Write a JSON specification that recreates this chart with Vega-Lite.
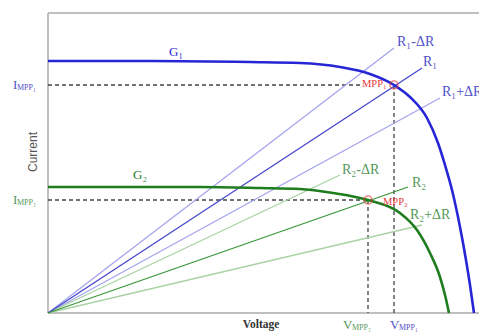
{
  "$schema": "https://vega.github.io/schema/vega-lite/v6.json",
  "width": 431,
  "height": 300,
  "padding": {"left": 48, "top": 13, "right": 0, "bottom": 19},
  "autosize": {"type": "none"},
  "background": "white",
  "config": {"view": {"stroke": null}},
  "datasets": {
    "curves": [
      {"curve": "G1", "x": 0, "y": 25.2}, {"curve": "G1", "x": 10.2, "y": 25.2}, {"curve": "G1", "x": 20.2, "y": 25.1},
      {"curve": "G1", "x": 25.2, "y": 25.0}, {"curve": "G1", "x": 29.2, "y": 24.6}, {"curve": "G1", "x": 32.2, "y": 23.9},
      {"curve": "G1", "x": 34.6, "y": 22.8}, {"curve": "G1", "x": 36.2, "y": 21.6}, {"curve": "G1", "x": 37.9, "y": 19.5},
      {"curve": "G1", "x": 39.0, "y": 17.0}, {"curve": "G1", "x": 39.7, "y": 14.8}, {"curve": "G1", "x": 40.4, "y": 12.3},
      {"curve": "G1", "x": 41.2, "y": 8.6}, {"curve": "G1", "x": 41.8, "y": 5.3}, {"curve": "G1", "x": 42.2, "y": 2.8},
      {"curve": "G1", "x": 42.6, "y": 0},
      {"curve": "G2", "x": 0, "y": 12.6}, {"curve": "G2", "x": 15.2, "y": 12.6}, {"curve": "G2", "x": 21.2, "y": 12.5},
      {"curve": "G2", "x": 25.2, "y": 12.4}, {"curve": "G2", "x": 28.5, "y": 12.0}, {"curve": "G2", "x": 32.0, "y": 11.3},
      {"curve": "G2", "x": 35.2, "y": 10.0}, {"curve": "G2", "x": 36.9, "y": 8.3}, {"curve": "G2", "x": 38.2, "y": 6.0},
      {"curve": "G2", "x": 39.2, "y": 3.6}, {"curve": "G2", "x": 39.7, "y": 1.8}, {"curve": "G2", "x": 40.1, "y": 0}
    ],
    "loads": [
      {"line": "R1-ΔR", "group": "R1±", "x": 0, "y": 0, "x2": 34.6, "y2": 26.5},
      {"line": "R1+ΔR", "group": "R1±", "x": 0, "y": 0, "x2": 39.2, "y2": 21.5},
      {"line": "R2-ΔR", "group": "R2±", "x": 0, "y": 0, "x2": 29.2, "y2": 13.8},
      {"line": "R2+ΔR", "group": "R2±", "x": 0, "y": 0, "x2": 37.4, "y2": 8.8},
      {"line": "R1", "group": "R1", "x": 0, "y": 0, "x2": 37.4, "y2": 24.5},
      {"line": "R2", "group": "R2", "x": 0, "y": 0, "x2": 36.0, "y2": 12.6}
    ],
    "guides": [
      {"x": 0, "y": 22.8, "x2": 31.2, "y2": 22.8},
      {"x": 34.6, "y": 22.8, "x2": 34.6, "y2": 0},
      {"x": 0, "y": 11.3, "x2": 32.0, "y2": 11.3},
      {"x": 32.0, "y": 11.3, "x2": 32.0, "y2": 0}
    ],
    "mpp": [{"x": 34.6, "y": 22.8}, {"x": 32.0, "y": 11.3}],
    "labels": [
      {"role": "r", "text": "R₁-ΔR", "x": 34.9, "y": 27.1, "group": "blueText"},
      {"role": "r", "text": "R₁", "x": 37.5, "y": 25.1, "group": "blueText"},
      {"role": "r", "text": "R₁+ΔR", "x": 39.4, "y": 22.1, "group": "blueText"},
      {"role": "r", "text": "R₂-ΔR", "x": 29.4, "y": 14.3, "group": "greenText"},
      {"role": "r", "text": "R₂", "x": 36.4, "y": 13.0, "group": "greenText"},
      {"role": "r", "text": "R₂+ΔR", "x": 36.2, "y": 9.8, "group": "greenText"},
      {"role": "g", "text": "G₁", "x": 12.8, "y": 26.1, "group": "G1"},
      {"role": "g", "text": "G₂", "x": 9.2, "y": 13.8, "group": "G2"},
      {"role": "big", "text": "I", "x": -3.5, "y": 22.8, "group": "blueText"},
      {"role": "big", "text": "I", "x": -3.5, "y": 11.3, "group": "greenText"},
      {"role": "big", "text": "V", "x": 29.5, "y": -1.2, "group": "greenText"},
      {"role": "big", "text": "V", "x": 34.2, "y": -1.2, "group": "blueText"},
      {"role": "sub", "text": "MPP₁", "x": -3.1, "y": 22.5, "group": "blueText"},
      {"role": "sub", "text": "MPP₂", "x": -3.1, "y": 11.0, "group": "greenText"},
      {"role": "sub", "text": "MPP₂", "x": 30.4, "y": -1.5, "group": "greenText"},
      {"role": "sub", "text": "MPP₁", "x": 35.1, "y": -1.5, "group": "blueText"},
      {"role": "mpp", "text": "MPP₁", "x": 31.4, "y": 22.9, "group": "red"},
      {"role": "mpp", "text": "MPP₂", "x": 33.5, "y": 11.1, "group": "red"}
    ]
  },
  "layer": [
    {
      "data": {"values": [{"y": 30}, {"y": 0}]},
      "mark": {"type": "rule", "color": "#aaaaaa", "strokeWidth": 1.5},
      "encoding": {
        "y": {"field": "y", "type": "quantitative", "scale": {"domain": [0, 30], "nice": false}, "axis": null}
      }
    },
    {
      "data": {"values": [{"x": 0}]},
      "mark": {"type": "rule", "color": "#aaaaaa", "strokeWidth": 1.5},
      "encoding": {
        "x": {"field": "x", "type": "quantitative", "scale": {"domain": [0, 43.1], "nice": false}, "axis": null}
      }
    },
    {
      "data": {"name": "guides"},
      "mark": {"type": "rule", "color": "#444444", "strokeWidth": 1.3, "strokeDash": [4, 3]},
      "encoding": {
        "x": {"field": "x", "type": "quantitative", "scale": {"domain": [0, 43.1], "nice": false}, "axis": null},
        "y": {"field": "y", "type": "quantitative", "scale": {"domain": [0, 30], "nice": false}, "axis": null},
        "x2": {"field": "x2"},
        "y2": {"field": "y2"}
      }
    },
    {
      "data": {"name": "loads"},
      "mark": {"type": "rule", "strokeWidth": 1.3},
      "encoding": {
        "x": {"field": "x", "type": "quantitative", "scale": {"domain": [0, 43.1], "nice": false}, "axis": null},
        "y": {"field": "y", "type": "quantitative", "scale": {"domain": [0, 30], "nice": false}, "axis": null},
        "x2": {"field": "x2"},
        "y2": {"field": "y2"},
        "color": {"field": "group", "type": "nominal", "legend": null,
          "scale": {"domain": ["G1", "G2", "R1", "R1±", "R2", "R2±", "blueText", "greenText", "red"],
                    "range": ["#2626d6", "#1e7d1e", "#4646cc", "#a4a4ee", "#3a963a", "#a9d3a3", "#5050c8", "#55985a", "#e63a3a"]}}
      }
    },
    {
      "data": {"name": "curves"},
      "mark": {"type": "line", "strokeWidth": 2.6, "interpolate": "monotone"},
      "encoding": {
        "x": {"field": "x", "type": "quantitative", "scale": {"domain": [0, 43.1], "nice": false}, "axis": null},
        "y": {"field": "y", "type": "quantitative", "scale": {"domain": [0, 30], "nice": false}, "axis": null},
        "color": {"field": "curve", "type": "nominal", "legend": null}
      }
    },
    {
      "data": {"name": "mpp"},
      "mark": {"type": "point", "shape": "circle", "filled": false, "size": 65, "strokeWidth": 1.3, "color": "#e63a3a"},
      "encoding": {
        "x": {"field": "x", "type": "quantitative", "scale": {"domain": [0, 43.1], "nice": false}, "axis": null},
        "y": {"field": "y", "type": "quantitative", "scale": {"domain": [0, 30], "nice": false}, "axis": null}
      }
    },
    {
      "data": {"name": "labels"},
      "transform": [{"filter": "datum.role == 'r'"}],
      "mark": {"type": "text", "align": "left", "baseline": "middle", "font": "Liberation Serif", "fontSize": 14},
      "encoding": {
        "x": {"field": "x", "type": "quantitative", "scale": {"domain": [0, 43.1], "nice": false}, "axis": null},
        "y": {"field": "y", "type": "quantitative", "scale": {"domain": [0, 30], "nice": false}, "axis": null},
        "text": {"field": "text"},
        "color": {"field": "group", "type": "nominal", "legend": null}
      }
    },
    {
      "data": {"name": "labels"},
      "transform": [{"filter": "datum.role == 'g'"}],
      "mark": {"type": "text", "align": "center", "baseline": "middle", "font": "Liberation Serif", "fontSize": 13},
      "encoding": {
        "x": {"field": "x", "type": "quantitative", "scale": {"domain": [0, 43.1], "nice": false}, "axis": null},
        "y": {"field": "y", "type": "quantitative", "scale": {"domain": [0, 30], "nice": false}, "axis": null},
        "text": {"field": "text"},
        "color": {"field": "group", "type": "nominal", "legend": null}
      }
    },
    {
      "data": {"name": "labels"},
      "transform": [{"filter": "datum.role == 'big'"}],
      "mark": {"type": "text", "align": "left", "baseline": "middle", "font": "Liberation Serif", "fontSize": 13},
      "encoding": {
        "x": {"field": "x", "type": "quantitative", "scale": {"domain": [0, 43.1], "nice": false}, "axis": null},
        "y": {"field": "y", "type": "quantitative", "scale": {"domain": [0, 30], "nice": false}, "axis": null},
        "text": {"field": "text"},
        "color": {"field": "group", "type": "nominal", "legend": null}
      }
    },
    {
      "data": {"name": "labels"},
      "transform": [{"filter": "datum.role == 'sub'"}],
      "mark": {"type": "text", "align": "left", "baseline": "middle", "font": "Liberation Serif", "fontSize": 8},
      "encoding": {
        "x": {"field": "x", "type": "quantitative", "scale": {"domain": [0, 43.1], "nice": false}, "axis": null},
        "y": {"field": "y", "type": "quantitative", "scale": {"domain": [0, 30], "nice": false}, "axis": null},
        "text": {"field": "text"},
        "color": {"field": "group", "type": "nominal", "legend": null}
      }
    },
    {
      "data": {"name": "labels"},
      "transform": [{"filter": "datum.role == 'mpp'"}],
      "mark": {"type": "text", "align": "left", "baseline": "middle", "font": "Liberation Serif", "fontSize": 10.5},
      "encoding": {
        "x": {"field": "x", "type": "quantitative", "scale": {"domain": [0, 43.1], "nice": false}, "axis": null},
        "y": {"field": "y", "type": "quantitative", "scale": {"domain": [0, 30], "nice": false}, "axis": null},
        "text": {"field": "text"},
        "color": {"field": "group", "type": "nominal", "legend": null}
      }
    },
    {
      "data": {"values": [{"text": "Voltage", "x": 21.3, "y": -1.15}]},
      "mark": {"type": "text", "align": "center", "baseline": "middle", "font": "Liberation Serif", "fontSize": 11.5, "fontWeight": "bold", "color": "#333333"},
      "encoding": {
        "x": {"field": "x", "type": "quantitative", "scale": {"domain": [0, 43.1], "nice": false}, "axis": null},
        "y": {"field": "y", "type": "quantitative", "scale": {"domain": [0, 30], "nice": false}, "axis": null},
        "text": {"field": "text"}
      }
    },
    {
      "data": {"values": [{"text": "Current", "x": -1.5, "y": 16.1}]},
      "mark": {"type": "text", "align": "center", "baseline": "middle", "font": "Liberation Sans", "fontSize": 12, "angle": 270, "color": "#555555"},
      "encoding": {
        "x": {"field": "x", "type": "quantitative", "scale": {"domain": [0, 43.1], "nice": false}, "axis": null},
        "y": {"field": "y", "type": "quantitative", "scale": {"domain": [0, 30], "nice": false}, "axis": null},
        "text": {"field": "text"}
      }
    }
  ]
}
